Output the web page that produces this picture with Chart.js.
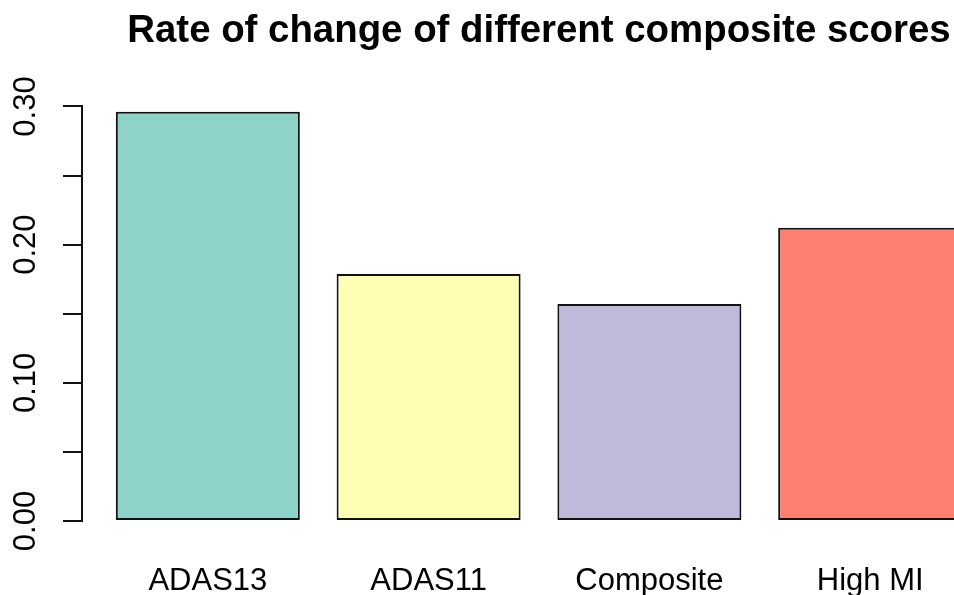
<!DOCTYPE html>
<html>
<head>
<meta charset="utf-8">
<script src="https://cdn.jsdelivr.net/npm/chart.js@4"></script>
<style>
  html, body { margin: 0; padding: 0; background: #fff; overflow: hidden; width: 954px; height: 595px; }
  #wrap { position: absolute; left: 0; top: 0; width: 1078px; height: 595px; }
</style>
</head>
<body>
<div id="wrap"><canvas id="c" width="1078" height="595"></canvas></div>
<script>
// ---- data ----
const categories = ['ADAS13', 'ADAS11', 'Composite', 'High MI'];
const rates = [0.2962, 0.1788, 0.1571, 0.2123];
const barColors = ['#8DD3C7', '#FFFFB3', '#BEBADA', '#FB8072'];
const yTickValues = [0, 0.05, 0.10, 0.15, 0.20, 0.25, 0.30];
const titleText = 'Rate of change of different composite scores';

// R barplot layout: width 1, space 0.2
const barWidth = 1, barSpace = 0.2;
const centers = categories.map((_, i) => barSpace + barWidth / 2 + i * (barWidth + barSpace));
const rightEdge = centers[centers.length - 1] + barWidth / 2;
const ext = (rightEdge - barSpace) * 0.04;
const xMin = barSpace - ext, xMax = rightEdge + ext;

const font = "'Liberation Sans', Arial, Helvetica, sans-serif";

new Chart(document.getElementById('c'), {
  type: 'bar',
  data: {
    datasets: [{
      data: categories.map((c, i) => ({ x: centers[i], y: rates[i] })),
      backgroundColor: barColors,
      borderColor: '#111',
      borderWidth: 2,
      borderSkipped: false,
      categoryPercentage: 1,
      barPercentage: barWidth / (barWidth + barSpace)
    }]
  },
  options: {
    responsive: false,
    animation: false,
    layout: { padding: { left: 0, right: 82, top: 0, bottom: 0 } },
    plugins: {
      legend: { display: false },
      tooltip: { enabled: false },
      title: {
        display: true,
        fullSize: false,
        text: titleText,
        color: '#000',
        font: { family: font, size: 38.4, weight: 'bold', lineHeight: 1.2 },
        padding: { top: 8, bottom: 52.4 }
      }
    },
    scales: {
      x: {
        type: 'linear',
        offset: false,
        min: xMin,
        max: xMax,
        border: { display: false },
        grid: { display: false, drawTicks: false, offset: false },
        afterBuildTicks: (s) => { s.ticks = centers.map(v => ({ value: v })); },
        afterFit: (s) => { s.height = 74; },
        ticks: {
          autoSkip: false,
          maxRotation: 0,
          minRotation: 0,
          padding: 42,
          color: '#000',
          font: { family: font, size: 31 },
          callback: (v, i) => categories[i]
        }
      },
      y: {
        type: 'linear',
        min: yTickValues[0],
        max: yTickValues[yTickValues.length - 1],
        afterBuildTicks: (s) => { s.ticks = yTickValues.map(v => ({ value: v })); },
        afterFit: (s) => { s.width = 82; },
        border: { display: true, color: '#111', width: 2 },
        grid: { display: true, drawOnChartArea: false, drawTicks: true, tickLength: 19, color: '#111', lineWidth: 2 },
        ticks: {
          autoSkip: false,
          minRotation: 90,
          maxRotation: 90,
          crossAlign: 'center',
          padding: 6,
          color: '#000',
          font: { family: font, size: 31 },
          callback: (v) => (Math.round(v * 100) % 10 === 0 ? v.toFixed(2) : '')
        }
      }
    }
  }
});
</script>
</body>
</html>
